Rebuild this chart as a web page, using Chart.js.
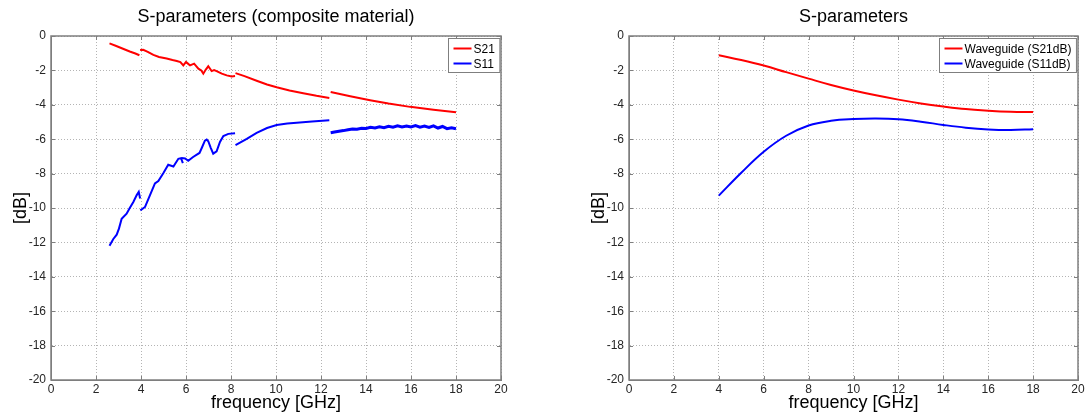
<!DOCTYPE html>
<html>
<head>
<meta charset="utf-8">
<script src="https://cdn.jsdelivr.net/npm/chart.js@4/dist/chart.umd.min.js"></script>
<style>
  html, body { margin: 0; padding: 0; background: #fff; }
  #wrap { position: relative; width: 1089px; height: 414px; }
  canvas { position: absolute; top: 0; }
</style>
</head>
<body>
<div id="wrap">
  <canvas id="leftChart" width="545" height="414" style="left:0"></canvas>
  <canvas id="rightChart" width="544" height="414" style="left:545px"></canvas>
</div>
<script>
// composite material (left) - null marks a break between measurement bands
const s21Freq = [2.6, 2.9, 3.2, 3.5, 3.75, 3.93, 3.93,
  3.96, 4.1, 4.3, 4.55, 4.8, 5.14, 5.4, 5.59, 5.75, 5.88, 6.0, 6.1, 6.18, 6.36, 6.55, 6.68, 6.77, 6.88, 6.99, 7.14, 7.25, 7.36, 7.59, 7.81, 8.03, 8.18, 8.18,
  8.2, 8.6, 9.14, 9.6, 10.03, 10.6, 11.21, 11.8, 12.37, 12.37,
  12.43, 13.3, 14.18, 15.0, 15.96, 17.0, 18.0];
const s21Db = [-0.43, -0.58, -0.74, -0.9, -1.02, -1.12, null,
  -0.82, -0.8, -0.92, -1.1, -1.22, -1.31, -1.4, -1.45, -1.52, -1.71, -1.51, -1.62, -1.71, -1.61, -1.9, -2.0, -2.19, -1.95, -1.76, -2.04, -1.98, -2.04, -2.19, -2.29, -2.35, -2.33, null,
  -2.16, -2.33, -2.6, -2.82, -2.98, -3.17, -3.33, -3.48, -3.6, null,
  -3.25, -3.5, -3.73, -3.93, -4.12, -4.29, -4.43];

const s11Freq = [2.6, 2.77, 2.92, 3.02, 3.14, 3.36, 3.5, 3.66, 3.81, 3.9, 3.96, 3.96,
  3.97, 4.18, 4.4, 4.62, 4.77, 4.99, 5.21, 5.44, 5.66, 5.78, 5.86, 5.86,
  5.8, 5.96, 6.1, 6.3, 6.48, 6.6, 6.7, 6.84, 6.92, 6.99, 7.1, 7.21, 7.36, 7.51, 7.66, 7.88, 8.18, 8.18,
  8.2, 8.7, 9.14, 9.6, 10.03, 10.5, 10.92, 11.6, 12.37, 12.37,
  12.43, 12.6, 12.8, 13.0, 13.2, 13.4, 13.6, 13.8, 14.0, 14.2, 14.4, 14.6, 14.8, 15.0, 15.2, 15.4, 15.6, 15.8, 16.0, 16.2, 16.4, 16.6, 16.8, 17.0, 17.2, 17.4, 17.6, 17.8, 18.0];
const s11Db = [-12.2, -11.8, -11.55, -11.2, -10.63, -10.33, -10.0, -9.65, -9.25, -9.06, -9.45, null,
  -10.14, -9.94, -9.25, -8.57, -8.43, -7.98, -7.49, -7.59, -7.14, -7.1, -7.39, null,
  -7.1, -7.12, -7.25, -7.05, -6.9, -6.8, -6.51, -6.08, -6.02, -6.12, -6.5, -6.84, -6.71, -6.16, -5.82, -5.69, -5.65, null,
  -6.35, -5.98, -5.63, -5.35, -5.18, -5.09, -5.04, -4.97, -4.9, null,
  -5.62, -5.58, -5.54, -5.5, -5.45, -5.41, -5.42, -5.36, -5.38, -5.31, -5.35, -5.28, -5.33, -5.25, -5.3, -5.22, -5.29, -5.23, -5.29, -5.21, -5.3, -5.24, -5.32, -5.22, -5.35, -5.26, -5.39, -5.33, -5.39];

// waveguide simulation (right)
const wgFreq = [4, 5, 6, 7, 8, 9, 10, 11, 12, 13, 14, 15, 16, 17, 18];
const wgS21 = [-1.12, -1.4, -1.72, -2.1, -2.48, -2.85, -3.17, -3.45, -3.7, -3.92, -4.1, -4.25, -4.34, -4.4, -4.42];
const wgS11 = [-9.28, -7.95, -6.73, -5.8, -5.2, -4.93, -4.83, -4.8, -4.84, -4.98, -5.17, -5.33, -5.43, -5.46, -5.42];

const xTicks = [0, 2, 4, 6, 8, 10, 12, 14, 16, 18, 20];
const yTicks = [0, -2, -4, -6, -8, -10, -12, -14, -16, -18, -20];

const FONT = "'Liberation Sans', Arial, sans-serif";

function toPoints(xs, ys) {
    return xs.map((x, i) => ({ x: x, y: ys[i] }));
}

// MATLAB style box, inward ticks, title over the axes and legend inside
const matlabAxes = {
    id: 'matlabAxes',
    afterDatasetsDraw(chart, args, opts) {
        const { ctx, chartArea: a, scales } = chart;
        ctx.save();
        ctx.strokeStyle = '#7f7f7f';
        ctx.lineWidth = 1;
        ctx.beginPath();
        xTicks.forEach(v => {
            const px = Math.round(scales.x.getPixelForValue(v)) + 0.5;
            ctx.moveTo(px, a.bottom); ctx.lineTo(px, a.bottom - 4);
            ctx.moveTo(px, a.top); ctx.lineTo(px, a.top + 4);
        });
        yTicks.forEach(v => {
            const py = Math.round(scales.y.getPixelForValue(v)) + 0.5;
            ctx.moveTo(a.left, py); ctx.lineTo(a.left + 4, py);
            ctx.moveTo(a.right, py); ctx.lineTo(a.right - 4, py);
        });
        ctx.stroke();
        ctx.lineWidth = 1.5;
        ctx.strokeRect(a.left, a.top, a.right - a.left, a.bottom - a.top);

        // title centred on the plot box
        ctx.fillStyle = '#000';
        ctx.font = '18px ' + FONT;
        ctx.textAlign = 'center';
        ctx.textBaseline = 'middle';
        ctx.fillText(opts.title, (a.left + a.right) / 2, 17);

        // legend
        ctx.textAlign = 'left';
        ctx.font = '12px ' + FONT;
        const sets = chart.data.datasets;
        const textW = Math.max(...sets.map(d => ctx.measureText(d.label).width));
        const w = 5 + 18 + 2 + textW + 5;
        const h = 34;
        const bx = Math.round(a.right - 2 - w) + 0.5;
        const by = Math.round(a.top + 2) + 0.5;
        ctx.fillStyle = '#fff';
        ctx.fillRect(bx, by, w, h);
        ctx.strokeStyle = '#7f7f7f';
        ctx.lineWidth = 1;
        ctx.strokeRect(bx, by, w, h);
        sets.forEach((d, i) => {
            const ly = by + 10 + i * 15;
            ctx.strokeStyle = d.borderColor;
            ctx.lineWidth = 2;
            ctx.beginPath();
            ctx.moveTo(bx + 5, ly); ctx.lineTo(bx + 23, ly);
            ctx.stroke();
            ctx.fillStyle = '#000';
            ctx.fillText(d.label, bx + 25, ly + 1);
        });
        ctx.restore();
    }
};

function makeChart(id, title, datasets, pad) {
    return new Chart(document.getElementById(id), {
        type: 'line',
        data: { datasets: datasets },
        options: {
            responsive: false,
            animation: false,
            spanGaps: false,
            layout: { padding: pad },
            elements: { point: { radius: 0 } },
            plugins: {
                legend: { display: false },
                tooltip: { enabled: false },
                title: { display: false },
                matlabAxes: { title: title }
            },
            scales: {
                x: {
                    type: 'linear',
                    min: 0, max: 20,
                    afterFit: s => { s.height = 34; },
                    afterBuildTicks: s => { s.ticks = xTicks.map(v => ({ value: v })); },
                    ticks: { color: '#262626', padding: 2, font: { family: FONT, size: 12 } },
                    grid: { color: '#b4b4b4', drawTicks: false },
                    border: { dash: [1, 2], color: '#7f7f7f' },
                    title: {
                        display: true, text: 'frequency [GHz]', color: '#000',
                        padding: { top: 0, bottom: 0 },
                        font: { family: FONT, size: 18 }
                    }
                },
                y: {
                    type: 'linear',
                    min: -20, max: 0,
                    afterFit: s => { s.width = 41; },
                    afterBuildTicks: s => { s.ticks = yTicks.map(v => ({ value: v })); },
                    ticks: { color: '#262626', padding: 5, font: { family: FONT, size: 12 } },
                    grid: { color: '#b4b4b4', drawTicks: false },
                    border: { dash: [1, 2], color: '#7f7f7f' },
                    title: {
                        display: true, text: '[dB]', color: '#000',
                        padding: { top: 0, bottom: 0 },
                        font: { family: FONT, size: 18 }
                    }
                }
            }
        },
        plugins: [matlabAxes]
    });
}

makeChart('leftChart', 'S-parameters (composite material)', [
    { label: 'S21', data: toPoints(s21Freq, s21Db), borderColor: '#ff0000', borderWidth: 2, tension: 0 },
    {
        label: 'S11', data: toPoints(s11Freq, s11Db), borderColor: '#0000ff', borderWidth: 2, tension: 0,
        segment: { borderWidth: c => (c.p0.parsed.x >= 12.4 ? 3 : 2) }
    }
], { left: 10, right: 44, top: 36, bottom: 0 });

makeChart('rightChart', 'S-parameters', [
    { label: 'Waveguide (S21dB)', data: toPoints(wgFreq, wgS21), borderColor: '#ff0000', borderWidth: 2, tension: 0.4 },
    { label: 'Waveguide (S11dB)', data: toPoints(wgFreq, wgS11), borderColor: '#0000ff', borderWidth: 2, tension: 0.4 }
], { left: 43, right: 11, top: 36, bottom: 0 });
</script>
</body>
</html>
